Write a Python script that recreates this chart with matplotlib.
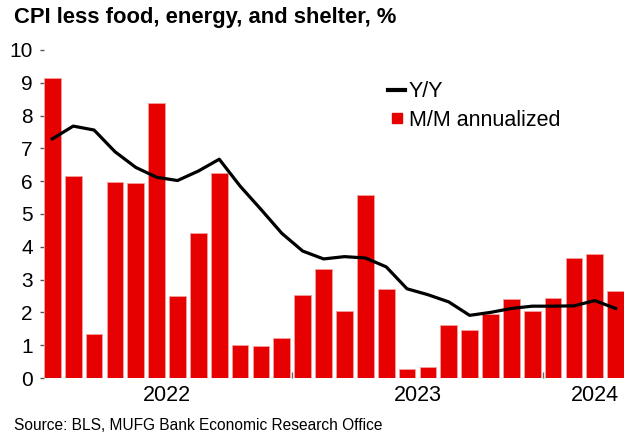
import matplotlib
matplotlib.use("Agg")
import matplotlib.pyplot as plt
from matplotlib.lines import Line2D
import numpy as np

plt.rcParams['font.family'] = ['Liberation Sans', 'DejaVu Sans']

months = ["2022-01", "2022-02", "2022-03", "2022-04", "2022-05", "2022-06",
          "2022-07", "2022-08", "2022-09", "2022-10", "2022-11", "2022-12",
          "2023-01", "2023-02", "2023-03", "2023-04", "2023-05", "2023-06",
          "2023-07", "2023-08", "2023-09", "2023-10", "2023-11", "2023-12",
          "2024-01", "2024-02", "2024-03", "2024-04"]
mm_annualized = [9.14, 6.17, 1.34, 5.98, 5.93, 8.38, 2.50, 4.41, 6.24, 1.00,
                 0.97, 1.22, 2.53, 3.32, 2.05, 5.58, 2.70, 0.27, 0.35, 1.63,
                 1.45, 1.95, 2.41, 2.05, 2.44, 3.66, 3.77, 2.65]
yy = [7.29, 7.68, 7.56, 6.90, 6.42, 6.12, 6.02, 6.31, 6.67, 5.85,
      5.14, 4.41, 3.87, 3.63, 3.70, 3.66, 3.39, 2.72, 2.54, 2.32,
      1.91, 2.00, 2.12, 2.19, 2.19, 2.20, 2.36, 2.12]
year_labels = ["2022", "2023", "2024"]
year_label_pos = [5.5, 17.5, 26.0]
year_boundaries = [11.5, 23.5]
yticks = list(range(0, 11))

W, H = 626, 432
fig = plt.figure(figsize=(W / 100, H / 100), dpi=100)
ax = fig.add_axes([44 / W, (H - 378) / H, (624 - 44) / W, (378 - 50) / H])

x = np.arange(len(months))
red = "#E60000"
ax.bar(x, mm_annualized, width=0.8, color=red, edgecolor="#f4a0a0",
       linewidth=0.6, zorder=2)
ax.plot(x, yy, color="black", linewidth=2.3, zorder=3)

ax.set_xlim(-0.4, 27.4)
ax.set_ylim(0, 10)
for s in ax.spines.values():
    s.set_visible(False)

ax.set_yticks(yticks)
ax.set_yticklabels([str(t) for t in yticks], fontsize=15)
ax.tick_params(axis='y', length=3, width=1, color="#555555", pad=5)

ax.set_xticks(year_boundaries)
ax.set_xticklabels([])
ax.tick_params(axis='x', direction='in', length=4, width=1, color="#666666")

for lab, pos in zip(year_labels, year_label_pos):
    ax.text(pos, -0.52, lab, ha='center', va='center', fontsize=15.5,
            clip_on=False)

handles = [Line2D([], [], color="black", linewidth=3),
           Line2D([], [], color=red, marker='s', markersize=7, linestyle='none')]
fig.legend(handles, ["Y/Y", "M/M annualized"], loc='upper left',
           bbox_to_anchor=(371 / W, 1 - 64 / H), frameon=False, fontsize=15.5,
           handlelength=0.8, handletextpad=0.15, labelspacing=0.35,
           borderpad=0.3)

fig.text(14 / W, 1 - 18 / H, "CPI less food, energy, and shelter, %",
         fontsize=15.8, fontweight='bold', ha='left', va='center')
fig.text(14 / W, 1 - 425 / H, "Source: BLS, MUFG Bank Economic Research Office",
         fontsize=11.2, ha='left', va='center')

fig.savefig("out.png", dpi=100)
